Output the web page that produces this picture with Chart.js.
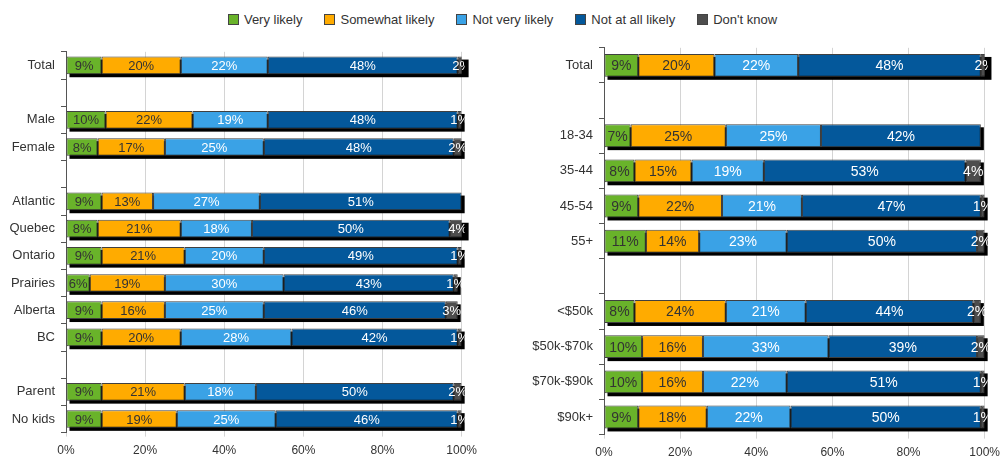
<!DOCTYPE html>
<html>
<head>
<meta charset="utf-8">
<script src="https://cdn.jsdelivr.net/npm/chart.js@4"></script>
<style>
    html, body { margin: 0; padding: 0; background: #fff; overflow: hidden; }
    #page { width: 1005px; height: 456px; position: relative; overflow: hidden; font-family: "Liberation Sans", Arial, sans-serif; }
    #legend { position: absolute; top: 12px; left: 0; width: 1005px; display: flex; justify-content: center; font-size: 13px; color: #333; }
    #legend .item { display: flex; align-items: center; margin: 0 11px; }
    #legend .box { width: 9px; height: 9px; border: 1px solid #444; margin-right: 5px; }
    canvas { position: absolute; }
    #leftChart { left: 0; top: 38px; }
    #rightChart { left: 511px; top: 34px; }
</style>
</head>
<body>
<div id="page">
    <div id="legend"></div>
    <canvas id="leftChart" width="484" height="427"></canvas>
    <canvas id="rightChart" width="496" height="433"></canvas>
</div>
<script>
// Series
const seriesNames = ['Very likely', 'Somewhat likely', 'Not very likely', 'Not at all likely', "Don't know"];
const seriesColors = ['#69b32a', '#ffab00', '#3aa2e6', '#04589b', '#4d4d4d'];
const labelColors = ['#333333', '#333333', '#ffffff', '#ffffff', '#ffffff'];

// Left panel: gender, region, parents
const leftCategories = ['Total', '', 'Male', 'Female', '', 'Atlantic', 'Quebec', 'Ontario', 'Prairies', 'Alberta', 'BC', '', 'Parent', 'No kids'];
const leftVeryLikely = [9, null, 10, 8, null, 9, 8, 9, 6, 9, 9, null, 9, 9];
const leftSomewhat = [20, null, 22, 17, null, 13, 21, 21, 19, 16, 20, null, 21, 19];
const leftNotVery = [22, null, 19, 25, null, 27, 18, 20, 30, 25, 28, null, 18, 25];
const leftNotAtAll = [48, null, 48, 48, null, 51, 50, 49, 43, 46, 42, null, 50, 46];
const leftDontKnow = [2, null, 1, 2, null, 0, 4, 1, 1, 3, 1, null, 2, 1];

// Right panel: age, income
const rightCategories = ['Total', '', '18-34', '35-44', '45-54', '55+', '', '<$50k', '$50k-$70k', '$70k-$90k', '$90k+'];
const rightVeryLikely = [9, null, 7, 8, 9, 11, null, 8, 10, 10, 9];
const rightSomewhat = [20, null, 25, 15, 22, 14, null, 24, 16, 16, 18];
const rightNotVery = [22, null, 25, 19, 21, 23, null, 21, 33, 22, 22];
const rightNotAtAll = [48, null, 42, 53, 47, 50, null, 44, 39, 51, 50];
const rightDontKnow = [2, null, 0, 4, 1, 2, null, 2, 2, 1, 1];

const xTicks = [0, 20, 40, 60, 80, 100];

const FONT = '"Liberation Sans", Arial, sans-serif';

// draws the black drop shadow under each full stacked bar
const shadowPlugin = {
    id: 'barShadow',
    beforeDatasetsDraw(chart) {
        const ctx = chart.ctx;
        const metas = chart.getSortedVisibleDatasetMetas();
        const count = chart.data.labels.length;
        ctx.save();
        ctx.fillStyle = '#000';
        for (let i = 0; i < count; i++) {
            let left = Infinity, right = -Infinity, y = null, h = 0;
            metas.forEach(meta => {
                const bar = meta.data[i];
                if (!bar || chart.data.datasets[meta.index].data[i] == null) return;
                const p = bar.getProps(['x', 'y', 'base', 'height'], true);
                left = Math.min(left, p.base, p.x);
                right = Math.max(right, p.base, p.x);
                y = p.y;
                h = p.height;
            });
            if (y === null) continue;
            ctx.fillRect(left + 3, y - h / 2 + 3, right - left, h);
        }
        ctx.restore();
    }
};

// draws value labels centred in each segment
const valueLabelPlugin = {
    id: 'valueLabels',
    afterDatasetsDraw(chart, args, opts) {
        const ctx = chart.ctx;
        const area = chart.chartArea;
        ctx.save();
        ctx.beginPath();
        ctx.rect(area.left, area.top - 5, area.right - area.left + 3, area.bottom - area.top + 10);
        ctx.clip();
        ctx.font = (opts.size || 13) + 'px ' + FONT;
        ctx.textAlign = 'center';
        ctx.textBaseline = 'middle';
        chart.getSortedVisibleDatasetMetas().forEach(meta => {
            const values = chart.data.datasets[meta.index].data;
            meta.data.forEach((bar, i) => {
                const v = values[i];
                if (v == null || v === 0) return;
                const p = bar.getProps(['x', 'y', 'base'], true);
                ctx.fillStyle = labelColors[meta.index];
                ctx.fillText(v + '%', (p.x + p.base) / 2, p.y + 1);
            });
        });
        ctx.restore();
    }
};

function buildDatasets(seriesValues, barPct) {
    return seriesValues.map((values, k) => ({
        label: seriesNames[k],
        data: values,
        backgroundColor: seriesColors[k],
        borderColor: '#404040',
        borderWidth: 1,
        borderSkipped: false,
        barPercentage: barPct,
        categoryPercentage: 1
    }));
}

function makeChart(canvasId, categories, seriesValues, axisWidth, labelSize) {
    const ctx = document.getElementById(canvasId).getContext('2d');
    return new Chart(ctx, {
        type: 'bar',
        data: {
            labels: categories,
            datasets: buildDatasets(seriesValues, 0.65)
        },
        options: {
            indexAxis: 'y',
            responsive: false,
            animation: false,
            devicePixelRatio: 1,
            layout: { padding: 0 },
            plugins: {
                legend: { display: false },
                tooltip: { enabled: false },
                valueLabels: { size: labelSize }
            },
            scales: {
                x: {
                    stacked: true,
                    min: 0,
                    max: 100,
                    afterBuildTicks: scale => {
                        scale.ticks = xTicks.map(v => ({ value: v }));
                    },
                    ticks: {
                        callback: value => value + '%',
                        font: { size: 12, family: FONT },
                        color: '#333',
                        padding: 7,
                        maxRotation: 0
                    },
                    grid: { color: '#d4d4d4', lineWidth: 1, tickLength: 4 },
                    border: { display: false }
                },
                y: {
                    stacked: true,
                    afterFit: scale => { scale.width = axisWidth; },
                    ticks: {
                        font: { size: 13, family: FONT },
                        color: '#333',
                        padding: 6
                    },
                    grid: {
                        offset: true,
                        drawOnChartArea: false,
                        drawTicks: true,
                        tickLength: 5,
                        color: '#555'
                    },
                    border: { display: true, color: '#555', width: 1 }
                }
            }
        },
        plugins: [shadowPlugin, valueLabelPlugin]
    });
}

function buildLegend() {
    const legend = document.getElementById('legend');
    seriesNames.forEach((name, k) => {
        const item = document.createElement('div');
        item.className = 'item';
        item.innerHTML = `<span class="box" style="background:${seriesColors[k]}"></span><span>${name}</span>`;
        legend.appendChild(item);
    });
}

buildLegend();
makeChart('leftChart', leftCategories,
    [leftVeryLikely, leftSomewhat, leftNotVery, leftNotAtAll, leftDontKnow], 66, 13);
makeChart('rightChart', rightCategories,
    [rightVeryLikely, rightSomewhat, rightNotVery, rightNotAtAll, rightDontKnow], 93, 14);
</script>
</body>
</html>
